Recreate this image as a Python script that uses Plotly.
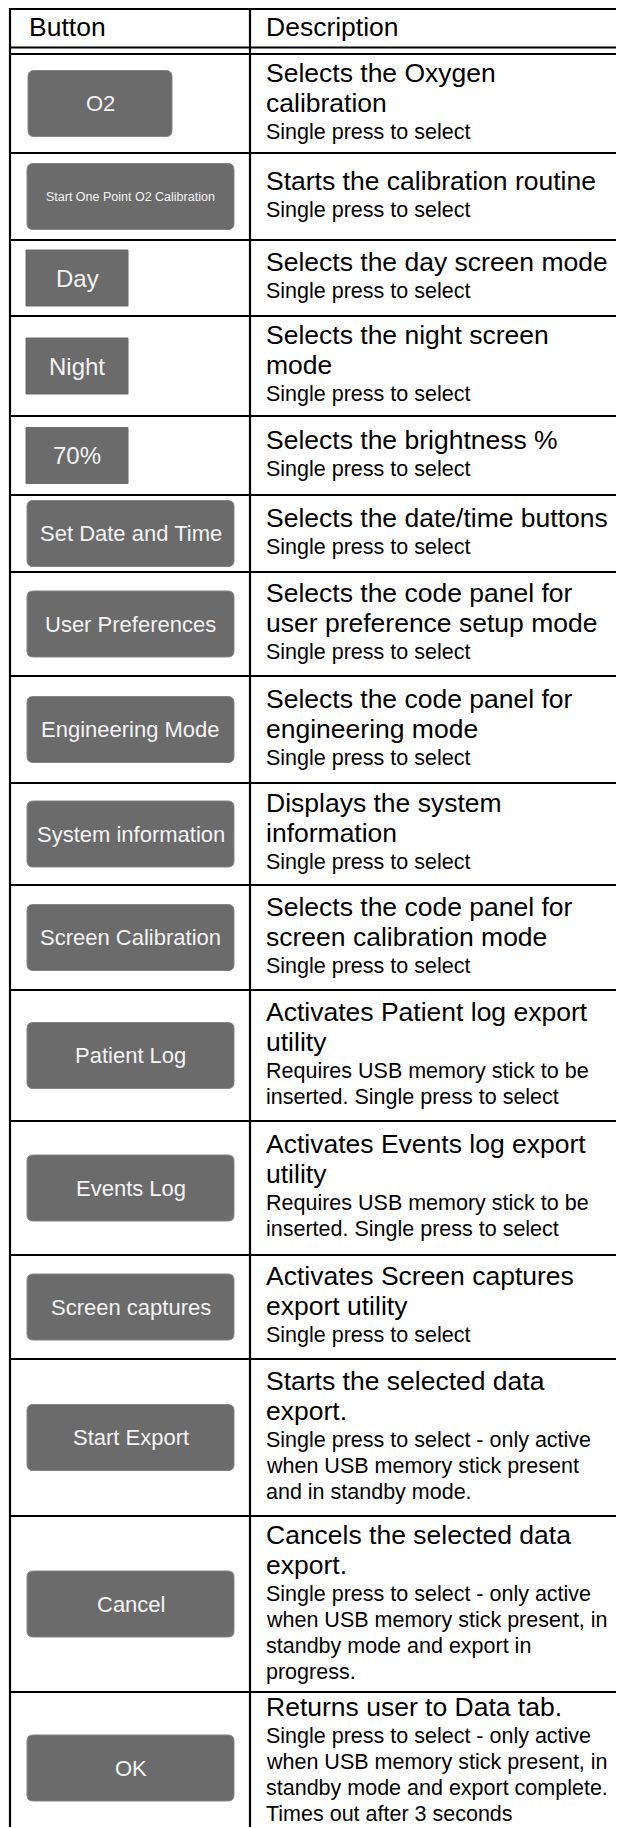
import plotly.graph_objects as go

# ---------------- data ----------------
header_labels = ["Button", "Description"]

button_labels = [
    "O2", "Start One Point O2 Calibration", "Day", "Night", "70%",
    "Set Date and Time", "User Preferences", "Engineering Mode",
    "System information", "Screen Calibration", "Patient Log", "Events Log",
    "Screen captures", "Start Export", "Cancel", "OK",
]

desc_titles = [
    ["Selects the Oxygen", "calibration"],
    ["Starts the calibration routine"],
    ["Selects the day screen mode"],
    ["Selects the night screen", "mode"],
    ["Selects the brightness %"],
    ["Selects the date/time buttons"],
    ["Selects the code panel for", "user preference setup mode"],
    ["Selects the code panel for", "engineering mode"],
    ["Displays the system", "information"],
    ["Selects the code panel for", "screen calibration mode"],
    ["Activates Patient log export", "utility"],
    ["Activates Events log export", "utility"],
    ["Activates Screen captures", "export utility"],
    ["Starts the selected data", "export."],
    ["Cancels the selected data", "export."],
    ["Returns user to Data tab."],
]

desc_notes = [
    ["Single press to select"],
    ["Single press to select"],
    ["Single press to select"],
    ["Single press to select"],
    ["Single press to select"],
    ["Single press to select"],
    ["Single press to select"],
    ["Single press to select"],
    ["Single press to select"],
    ["Single press to select"],
    ["Requires USB memory stick to be", "inserted. Single press to select"],
    ["Requires USB memory stick to be", "inserted. Single press to select"],
    ["Single press to select"],
    ["Single press to select - only active", "when USB memory stick present",
     "and in standby mode."],
    ["Single press to select - only active", "when USB memory stick present, in",
     "standby mode and export in", "progress."],
    ["Single press to select - only active", "when USB memory stick present, in",
     "standby mode and export complete.", "Times out after 3 seconds"],
]

# ---------------- layout / style (page pixel coordinates) ----------------
W, H = 624, 1827
PAGE_OFF = 8          # default body margin of the html page
TABLE_LEFT = 10
COL_DIV = 250
TABLE_TOP = 9
HEADER_LINES = [47.5, 54]
ROW_BOTTOMS = [153, 240, 316, 416, 495, 572, 676, 783, 885, 990,
               1121, 1255, 1359, 1516, 1692, 1860]

BTN_KIND = ["roundS", "round", "square", "square", "square", "round", "round",
            "round", "round", "round", "round", "round", "round", "round",
            "round", "round"]
BTN_STYLE = {
    "roundS": dict(x0=28, w=144, h=66, r=6, fs=22),
    "round": dict(x0=27, w=207, h=66, r=6, fs=22),
    "square": dict(x0=26, w=102, h=56, r=0, fs=24),
}
SMALL_BTN_FS = 12.5
BTN_FILL = "#6b6b6b"
BTN_TEXT = "#f4f4f4"
LINE_W = 2.2
FONT = "Liberation Sans, Arial, Helvetica, sans-serif"
BIG_FS, SMALL_FS = 26.5, 21.5
BB, BS, SS = 30, 29, 26  # line steps
TOP_PAD, BOT_PAD = 19, 22
LAST_ROW_TOP_PAD = 15    # last row runs off the page: text is top aligned
TEXT_X = 264

fig = go.Figure()
fig.add_trace(go.Scatter(x=[PAGE_OFF, PAGE_OFF + W], y=[PAGE_OFF, PAGE_OFF + H],
                         mode="markers", marker=dict(opacity=0), hoverinfo="skip"))

shapes = []
annotations = []


def hline(y, x0=TABLE_LEFT, x1=W + 30):
    shapes.append(dict(type="line", x0=x0, x1=x1, y0=y, y1=y,
                       line=dict(color="black", width=LINE_W)))


hline(TABLE_TOP)
for y in HEADER_LINES:
    hline(y)
for y in ROW_BOTTOMS[:-1]:
    hline(y)
for xv in (TABLE_LEFT, COL_DIV):
    shapes.append(dict(type="line", x0=xv, x1=xv, y0=TABLE_TOP - 1,
                       y1=H + 30, line=dict(color="black", width=LINE_W)))

# header
hdr_y = 27
annotations.append(dict(x=27, y=hdr_y, text=header_labels[0], showarrow=False,
                        xanchor="left", yanchor="middle",
                        font=dict(family=FONT, size=BIG_FS, color="black")))
annotations.append(dict(x=TEXT_X, y=hdr_y, text=header_labels[1], showarrow=False,
                        xanchor="left", yanchor="middle",
                        font=dict(family=FONT, size=BIG_FS, color="black")))


def rounded_path(x0, y0, x1, y1, r):
    if r <= 0:
        return f"M{x0},{y0} L{x1},{y0} L{x1},{y1} L{x0},{y1} Z"
    return (f"M{x0+r},{y0} L{x1-r},{y0} Q{x1},{y0} {x1},{y0+r} "
            f"L{x1},{y1-r} Q{x1},{y1} {x1-r},{y1} L{x0+r},{y1} "
            f"Q{x0},{y1} {x0},{y1-r} L{x0},{y0+r} Q{x0},{y0} {x0+r},{y0} Z")


tops = [HEADER_LINES[1]] + ROW_BOTTOMS[:-1]
n_rows = len(button_labels)
for i, label in enumerate(button_labels):
    top, bot = tops[i], ROW_BOTTOMS[i]
    st = BTN_STYLE[BTN_KIND[i]]
    lines = [(t, "B") for t in desc_titles[i]] + [(t, "S") for t in desc_notes[i]]
    offs = [0]
    for k in range(1, len(lines)):
        a, b = lines[k - 1][1], lines[k][1]
        step = BB if (a == "B" and b == "B") else (BS if a == "B" else SS)
        offs.append(offs[-1] + step)
    block = offs[-1] + TOP_PAD + BOT_PAD
    rowh = bot - top
    if i == n_rows - 1:
        first = top + LAST_ROW_TOP_PAD
        cy = first - LAST_ROW_TOP_PAD + (offs[-1] + LAST_ROW_TOP_PAD + BOT_PAD) / 2 + 4
    else:
        first = top + max(0, (rowh - block) / 2) + TOP_PAD
        cy = (top + bot) / 2

    x0, x1 = st["x0"], st["x0"] + st["w"]
    y0, y1 = cy - st["h"] / 2, cy + st["h"] / 2
    shapes.append(dict(type="path", path=rounded_path(x0, y0, x1, y1, st["r"]),
                       fillcolor=BTN_FILL,
                       line=dict(color="#858585" if st["r"] else BTN_FILL, width=1)))
    fs = SMALL_BTN_FS if len(label) > 22 else st["fs"]
    annotations.append(dict(x=(x0 + x1) / 2, y=cy, text=label, showarrow=False,
                            xanchor="center", yanchor="middle",
                            font=dict(family=FONT, size=fs, color=BTN_TEXT)))

    for (t, kind), o in zip(lines, offs):
        annotations.append(dict(x=TEXT_X, y=first + o, text=t, showarrow=False,
                                xanchor="left", yanchor="middle",
                                font=dict(family=FONT,
                                          size=BIG_FS if kind == "B" else SMALL_FS,
                                          color="black")))

fig.update_layout(
    width=W, height=H,
    margin=dict(l=0, r=0, t=0, b=0),
    paper_bgcolor="white", plot_bgcolor="white",
    showlegend=False,
    xaxis=dict(range=[PAGE_OFF, PAGE_OFF + W], visible=False, fixedrange=True),
    yaxis=dict(range=[PAGE_OFF + H, PAGE_OFF], visible=False, fixedrange=True),
    shapes=shapes, annotations=annotations,
)

fig.write_html("out.html", config={"displayModeBar": False})
